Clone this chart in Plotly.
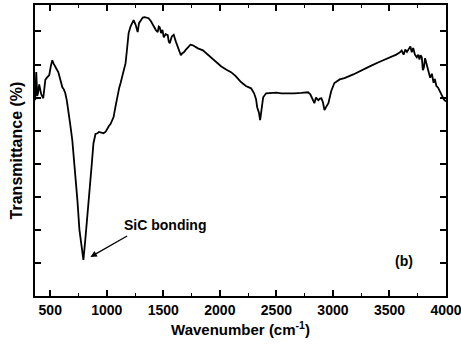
import plotly.graph_objects as go

wavenumber = [367, 376, 385, 393, 402, 411, 420, 438, 447, 456, 465, 473, 482, 491, 505, 518, 531, 544, 558, 571, 589, 607, 620, 633, 647, 660, 678, 695, 709, 722, 740, 758, 775, 793,
              810, 830, 850, 865, 882, 900, 917, 930, 944, 958, 971, 990, 1006, 1020, 1033, 1046, 1060, 1078, 1095, 1110, 1122, 1145, 1166, 1180, 1193, 1210, 1228, 1237,
              1255, 1273, 1285, 1299, 1318, 1335, 1352, 1370, 1392, 1415, 1432, 1450, 1460, 1468, 1480, 1492, 1504, 1520, 1539, 1548, 1557, 1575, 1592, 1610, 1628, 1642, 1655,
              1668, 1681, 1700, 1717, 1740, 1761, 1785, 1806, 1850, 1894, 1950, 2010, 2055, 2099, 2140, 2187, 2230, 2276, 2303, 2320, 2330, 2345, 2356, 2370, 2383, 2409,
              2450, 2500, 2543, 2600, 2658, 2720, 2780, 2800, 2820, 2836, 2850, 2871, 2885, 2898, 2912, 2925, 2940, 2960, 2985, 3013, 3060, 3102, 3180, 3253, 3330, 3404,
              3460, 3520, 3560, 3590, 3608, 3625, 3640, 3655, 3671, 3685, 3697, 3710, 3725, 3742, 3755, 3765, 3775, 3786, 3795, 3804, 3815, 3826, 3837, 3848, 3860, 3875,
              3890, 3901, 3915, 3930, 3945, 3964, 3980, 4000]
transmittance = [5.92, 6.77, 6.05, 6.16, 6.40, 6.28, 6.10, 5.98, 6.30, 6.53, 6.58, 6.62, 6.66, 6.68, 6.95, 7.13, 7.02, 6.92, 6.85, 6.77, 6.55, 6.31, 6.25, 6.13, 5.90, 5.62, 5.15, 4.71, 4.20, 3.72, 2.90, 2.00, 1.50, 1.09,
                 1.70, 2.60, 3.40, 3.90, 4.62, 4.90, 4.92, 4.96, 4.95, 4.93, 4.92, 4.97, 5.08, 5.15, 5.20, 5.30, 5.41, 5.75, 6.10, 6.30, 6.44, 6.75, 7.04, 7.50, 7.95, 8.15, 8.28, 8.34,
                 8.20, 7.98, 8.25, 8.34, 8.42, 8.43, 8.42, 8.40, 8.30, 8.13, 8.05, 7.98, 8.15, 8.13, 7.95, 8.05, 7.82, 7.92, 7.89, 7.70, 7.64, 7.85, 7.90, 7.70, 7.52, 7.40, 7.28,
                 7.34, 7.37, 7.45, 7.52, 7.60, 7.58, 7.52, 7.49, 7.43, 7.30, 7.15, 6.95, 6.85, 6.77, 6.65, 6.47, 6.35, 6.28, 6.13, 5.95, 5.71, 5.55, 5.32, 5.70, 6.01, 6.13,
                 6.14, 6.15, 6.13, 6.12, 6.13, 6.14, 6.16, 6.10, 5.95, 5.83, 6.00, 5.92, 5.97, 5.98, 5.85, 5.62, 5.72, 5.83, 6.20, 6.44, 6.55, 6.59, 6.70, 6.83, 6.95, 7.07,
                 7.15, 7.22, 7.30, 7.36, 7.42, 7.30, 7.45, 7.38, 7.49, 7.55, 7.37, 7.50, 7.30, 7.22, 7.30, 7.15, 7.28, 7.22, 6.83, 6.90, 7.19, 7.05, 6.95, 6.83, 6.60, 6.72,
                 6.45, 6.56, 6.35, 6.30, 6.18, 6.07, 5.95, 5.88]

x_ticks = [500, 1000, 1500, 2000, 2500, 3000, 3500, 4000]
y_ticks = [1, 2, 3, 4, 5, 6, 7, 8]

font_main = "Liberation Sans, Arial, sans-serif"

fig = go.Figure()
fig.add_trace(go.Scatter(x=wavenumber, y=transmittance, mode="lines",
                         line=dict(color="black", width=1.8), showlegend=False, hoverinfo="skip"))

fig.add_annotation(x=855, y=1.18, ax=1193, ay=1.84, xref="x", yref="y", axref="x", ayref="y",
                   text="", showarrow=True, arrowhead=2, arrowsize=1, arrowwidth=1.3, arrowcolor="black")
fig.add_annotation(x=1135, y=2.15, xref="x", yref="y", text="<b>SiC bonding</b>", showarrow=False,
                   xanchor="left", yanchor="middle", font=dict(family=font_main, size=14, color="black"))
fig.add_annotation(x=3626, y=1.06, xref="x", yref="y", text="<b>(b)</b>", showarrow=False,
                   xanchor="center", yanchor="middle", font=dict(family=font_main, size=14, color="black"))

fig.update_xaxes(range=[365, 4000], tickvals=x_ticks, ticktext=[f"<b>{v}</b>" for v in x_ticks],
                 ticks="inside", ticklen=6, tickwidth=1.5, tickcolor="black",
                 minor=dict(ticks="inside", ticklen=3, tickwidth=1.2, tickcolor="black", dtick=250, tick0=250),
                 showline=True, linewidth=2, linecolor="black", mirror="allticks",
                 showgrid=False, zeroline=False, ticklabeloverflow="allow", automargin=False,
                 tickfont=dict(family=font_main, size=14, color="black"),
                 title=dict(text="<b>Wavenumber (cm<sup>-1</sup>)</b>", font=dict(family=font_main, size=15, color="black"), standoff=8))
fig.update_yaxes(range=[0, 8.8], tickvals=y_ticks, showticklabels=False,
                 ticks="inside", ticklen=6, tickwidth=1.5, tickcolor="black",
                 showline=True, linewidth=2, linecolor="black", mirror="allticks",
                 showgrid=False, zeroline=False, automargin=False,
                 title=dict(text="<b>Transmittance (%)</b>", font=dict(family=font_main, size=16, color="black"), standoff=6))

fig.update_layout(width=461, height=347, margin=dict(l=35, r=15, t=5, b=51),
                  plot_bgcolor="white", paper_bgcolor="white")

fig.write_html("out.html")
